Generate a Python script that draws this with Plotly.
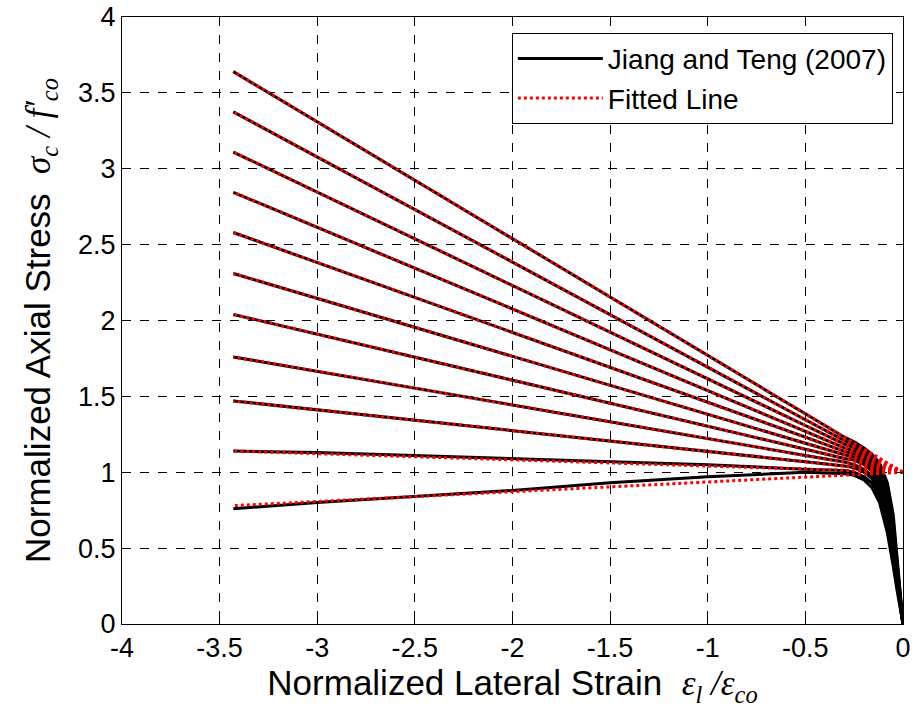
import plotly.graph_objects as go

# Shared x samples of the model curves (normalized lateral strain)
black_x = [0, -0.01, -0.03, -0.05, -0.08, -0.12, -0.16, -0.2, -0.25, -0.3,
           -0.5, -1.0, -1.5, -2.0, -2.5, -3.0, -3.43]

# Jiang and Teng (2007) curves, normalized axial stress
jt_0 = [0, 0.07, 0.22, 0.38, 0.60, 0.80, 0.90, 0.95, 0.98, 0.99, 1.00, 0.97, 0.93, 0.88, 0.84, 0.80, 0.76]
jt_1 = [0, 0.08, 0.25, 0.42, 0.65, 0.84, 0.93, 0.97, 1.00, 1.012, 1.02, 1.05, 1.07, 1.09, 1.11, 1.13, 1.14]
jt_2 = [0, 0.09, 0.28, 0.46, 0.69, 0.87, 0.96, 1.00, 1.03, 1.041, 1.069, 1.137, 1.206, 1.274, 1.343, 1.411, 1.47]
jt_3 = [0, 0.10, 0.30, 0.50, 0.73, 0.90, 0.98, 1.02, 1.05, 1.067, 1.111, 1.222, 1.333, 1.444, 1.555, 1.666, 1.76]
jt_4 = [0, 0.11, 0.32, 0.53, 0.76, 0.93, 1.01, 1.05, 1.08, 1.091, 1.152, 1.303, 1.455, 1.606, 1.758, 1.909, 2.04]
jt_5 = [0, 0.11, 0.34, 0.56, 0.79, 0.95, 1.03, 1.07, 1.10, 1.115, 1.191, 1.382, 1.573, 1.764, 1.955, 2.146, 2.31]
jt_6 = [0, 0.12, 0.36, 0.59, 0.82, 0.98, 1.05, 1.09, 1.12, 1.138, 1.231, 1.461, 1.692, 1.922, 2.153, 2.383, 2.58]
jt_7 = [0, 0.13, 0.38, 0.62, 0.85, 1.00, 1.07, 1.11, 1.14, 1.161, 1.269, 1.538, 1.807, 2.076, 2.345, 2.614, 2.845]
jt_8 = [0, 0.13, 0.40, 0.65, 0.87, 1.02, 1.09, 1.13, 1.16, 1.185, 1.308, 1.615, 1.923, 2.230, 2.538, 2.845, 3.11]
jt_9 = [0, 0.14, 0.42, 0.68, 0.90, 1.04, 1.10, 1.14, 1.18, 1.208, 1.346, 1.692, 2.038, 2.384, 2.730, 3.076, 3.375]
jt_10 = [0, 0.15, 0.45, 0.72, 0.93, 1.06, 1.12, 1.16, 1.20, 1.231, 1.385, 1.770, 2.155, 2.540, 2.925, 3.310, 3.64]
jt_curves = [jt_0, jt_1, jt_2, jt_3, jt_4, jt_5, jt_6, jt_7, jt_8, jt_9, jt_10]

# Fitted straight lines: from (0, 1) to (-3.43, end value)
fit_x = [0, -3.43]
fit_start = 1.0
fit_end = [0.78, 1.14, 1.47, 1.76, 2.04, 2.31, 2.58, 2.845, 3.11, 3.375, 3.64]

x_ticks = [-4, -3.5, -3, -2.5, -2, -1.5, -1, -0.5, 0]
y_ticks = [0, 0.5, 1, 1.5, 2, 2.5, 3, 3.5, 4]

SANS = "Liberation Sans, Arial, Helvetica"
SERIF = "'Liberation Serif', 'Times New Roman', serif"

fig = go.Figure()
for i, yv in enumerate(jt_curves):
    fig.add_trace(go.Scatter(
        x=black_x, y=yv, mode="lines",
        line=dict(color="black", width=3),
        name="Jiang and Teng (2007)", legendgroup="jt",
        showlegend=(i == 0)))
for i, ye in enumerate(fit_end):
    fig.add_trace(go.Scatter(
        x=fit_x, y=[fit_start, ye], mode="lines",
        line=dict(color="red", width=3, dash="dot"),
        name="Fitted Line", legendgroup="fit",
        showlegend=(i == 0)))

axis_common = dict(
    showgrid=True, gridcolor="black", griddash="dash", gridwidth=1,
    zeroline=False, showline=True, linecolor="black", linewidth=1,
    mirror="allticks", ticks="inside", ticklen=7, tickcolor="black",
    automargin=False, ticklabeloverflow="allow",
    tickfont=dict(family=SANS, size=27, color="black"),
)

fig.update_xaxes(
    range=[-4, 0], tickvals=x_ticks, ticktext=[str(v) for v in x_ticks],
    title=dict(
        text="Normalized Lateral Strain  <span style=\"font-family:" + SERIF + "\"><i>ε<sub>l</sub> /ε<sub>co</sub></i></span>",
        font=dict(family=SANS, size=35, color="black"),
        standoff=2),
    **axis_common)
fig.update_yaxes(
    range=[0, 4], tickvals=y_ticks, ticktext=[str(v) for v in y_ticks],
    title=dict(
        text="Normalized Axial Stress  <span style=\"font-family:" + SERIF + "\"><i>σ<sub>c</sub> / f′<sub>co</sub></i></span>",
        font=dict(family=SANS, size=35, color="black"),
        standoff=16),
    **axis_common)

fig.update_layout(
    template="none",
    width=915, height=715,
    margin=dict(l=122, r=12, t=17, b=91),
    paper_bgcolor="white", plot_bgcolor="white",
    legend=dict(
        x=0.987, y=0.974, xanchor="right", yanchor="top",
        bgcolor="white", bordercolor="black", borderwidth=1,
        font=dict(family=SANS, size=28, color="black"),
        itemwidth=85, tracegroupgap=0),
    showlegend=True,
)

fig.write_html(
    "out.html",
    config={"displayModeBar": False},
    post_script="document.body.style.margin='0px';document.body.style.overflow='hidden';",
)
